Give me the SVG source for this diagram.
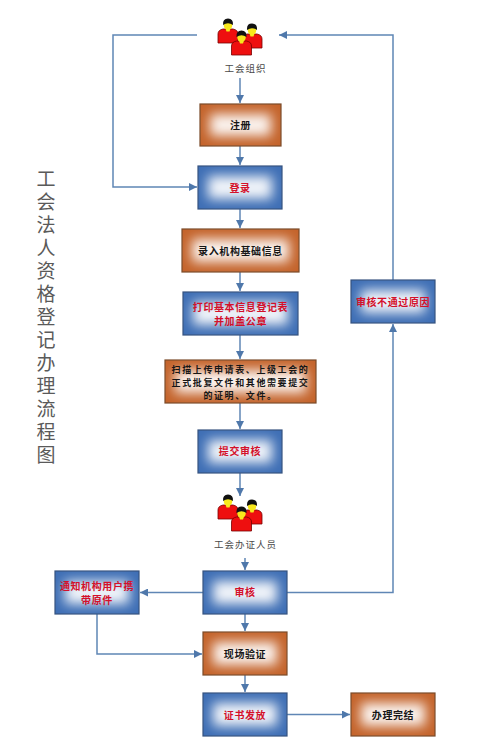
<svg xmlns="http://www.w3.org/2000/svg" xmlns:xlink="http://www.w3.org/1999/xlink" width="500" height="756" viewBox="0 0 500 756">
<style>
text{font-family:"Noto Sans CJK SC","Noto Sans",sans-serif;text-anchor:middle}
.blue{fill:#3f6fb5;stroke:#35527f;stroke-width:1.2}
.or{fill:#c4642c;stroke:#7a4a28;stroke-width:1.2}
.glow{fill:#fff;filter:url(#b);opacity:.92}
.r{fill:#d4102a;font-size:10px;font-weight:700;letter-spacing:.6px}
.k{fill:#161616;font-size:10px;font-weight:700;letter-spacing:.6px}
.s{font-size:9px;letter-spacing:1.6px}
.cap{fill:#4a4a4a;font-size:9.500px;letter-spacing:1px}
.t{fill:#5a5a5a;font-size:19px}
.c path{fill:none;stroke:#5f86b5;stroke-width:1.5}
</style>
<defs>
<filter id="b" x="-60%" y="-100%" width="220%" height="300%"><feGaussianBlur stdDeviation="6"/></filter>
<marker id="a" markerWidth="8" markerHeight="8" refX="6" refY="3" orient="auto" markerUnits="userSpaceOnUse" viewBox="0 0 6 6"><path d="M0 0L6 3L0 6z" fill="#4f78ab"/></marker>
<g id="man">
<path d="M-10 18V9Q-10 5-5 4H5Q10 5 10 9V18z" fill="#ee0f0f" stroke="#700" stroke-width=".8"/>
<path d="M-3 2H3L1.500 6.500H-1.500z" fill="#f8e81c"/>
<ellipse cx="0" cy="0" rx="4.300" ry="5" fill="#f8e81c"/>
<path d="M-5 0Q-5.500-6.500 0-6.500T5 0Q0-3.500-5 0z" fill="#111"/>
</g>
<g id="ppl">
<use xlink:href="#man" x="34" y="12"/>
<use xlink:href="#man" x="10" y="7"/>
<use xlink:href="#man" x="23.500" y="19"/>
</g>
</defs>
<rect width="500" height="756" fill="#fff"/>
<text class="t" x="46 46 46 46 46 46 46 46 46 46 46 46 46" y="186 209 232 255 278 301 324 347 370 393 416 439 462">工会法人资格登记办理流程图</text>
<g id="connectors" class="c">
<path d="M197 35H113V187H197" marker-end="url(#a)"/>
<path d="M393 280V35H279" marker-end="url(#a)"/>
<path d="M240 78V103" marker-end="url(#a)"/>
<path d="M240 146V165" marker-end="url(#a)"/>
<path d="M240 209V228" marker-end="url(#a)"/>
<path d="M240 272V291" marker-end="url(#a)"/>
<path d="M240 335V359" marker-end="url(#a)"/>
<path d="M240 403V429" marker-end="url(#a)"/>
<path d="M240 473V496" marker-end="url(#a)"/>
<path d="M245 558V570" marker-end="url(#a)"/>
<path d="M203 592.500H140" marker-end="url(#a)"/>
<path d="M287 592.500H393V324" marker-end="url(#a)"/>
<path d="M245 614V631" marker-end="url(#a)"/>
<path d="M97 614V654H202" marker-end="url(#a)"/>
<path d="M245 675V692" marker-end="url(#a)"/>
<path d="M287 714.500H350" marker-end="url(#a)"/>
</g>
<g id="n-org"><use xlink:href="#ppl" x="218" y="18"/><text class="cap" x="245.500" y="72">工会组织</text></g>
<g id="n-reg"><rect class="or" x="200" y="104" width="81" height="42"/><rect class="glow" x="210" y="114" width="61" height="22"/><text class="k" x="240.500" y="129">注册</text></g>
<g id="n-login"><rect class="blue" x="198" y="166" width="84" height="43"/><rect class="glow" x="208" y="176" width="64" height="23"/><text class="r" x="240" y="192">登录</text></g>
<g id="n-input"><rect class="or" x="182" y="229" width="117" height="43"/><rect class="glow" x="192" y="239" width="97" height="23"/><text class="k" x="240.500" y="255">录入机构基础信息</text></g>
<g id="n-print"><rect class="blue" x="183" y="292" width="115" height="43"/><rect class="glow" x="193" y="302" width="95" height="23"/><text class="r" x="240.500" y="311">打印基本信息登记表</text><text class="r" x="240.500" y="325">并加盖公章</text></g>
<g id="n-scan"><rect class="or" x="165" y="360" width="151" height="43"/><rect class="glow" x="175" y="370" width="131" height="23"/><text class="k s" x="240.500" y="373">扫描上传申请表、上级工会的</text><text class="k s" x="240.500" y="386">正式批复文件和其他需要提交</text><text class="k s" x="240.500" y="399">的证明、文件。</text></g>
<g id="n-submit"><rect class="blue" x="198" y="430" width="84" height="43"/><rect class="glow" x="208" y="440" width="64" height="23"/><text class="r" x="240" y="455">提交审核</text></g>
<g id="n-staff"><use xlink:href="#ppl" x="218" y="494"/><text class="cap" x="245.500" y="548">工会办证人员</text></g>
<g id="n-review"><rect class="blue" x="203" y="571" width="84" height="43"/><rect class="glow" x="213" y="581" width="64" height="23"/><text class="r" x="245" y="596">审核</text></g>
<g id="n-notify"><rect class="blue" x="55" y="571" width="84" height="43"/><rect class="glow" x="65" y="581" width="64" height="23"/><text class="r" x="97" y="590">通知机构用户携</text><text class="r" x="97" y="604">带原件</text></g>
<g id="n-verify"><rect class="or" x="203" y="632" width="84" height="43"/><rect class="glow" x="213" y="642" width="64" height="23"/><text class="k" x="245" y="658">现场验证</text></g>
<g id="n-issue"><rect class="blue" x="203" y="693" width="84" height="43"/><rect class="glow" x="213" y="703" width="64" height="23"/><text class="r" x="245" y="719">证书发放</text></g>
<g id="n-fail"><rect class="blue" x="351" y="280" width="84" height="43"/><rect class="glow" x="361" y="290" width="64" height="23"/><text class="r" x="393" y="306">审核不通过原因</text></g>
<g id="n-done"><rect class="or" x="351" y="693" width="84" height="43"/><rect class="glow" x="361" y="703" width="64" height="23"/><text class="k" x="393" y="719">办理完结</text></g>
</svg>
